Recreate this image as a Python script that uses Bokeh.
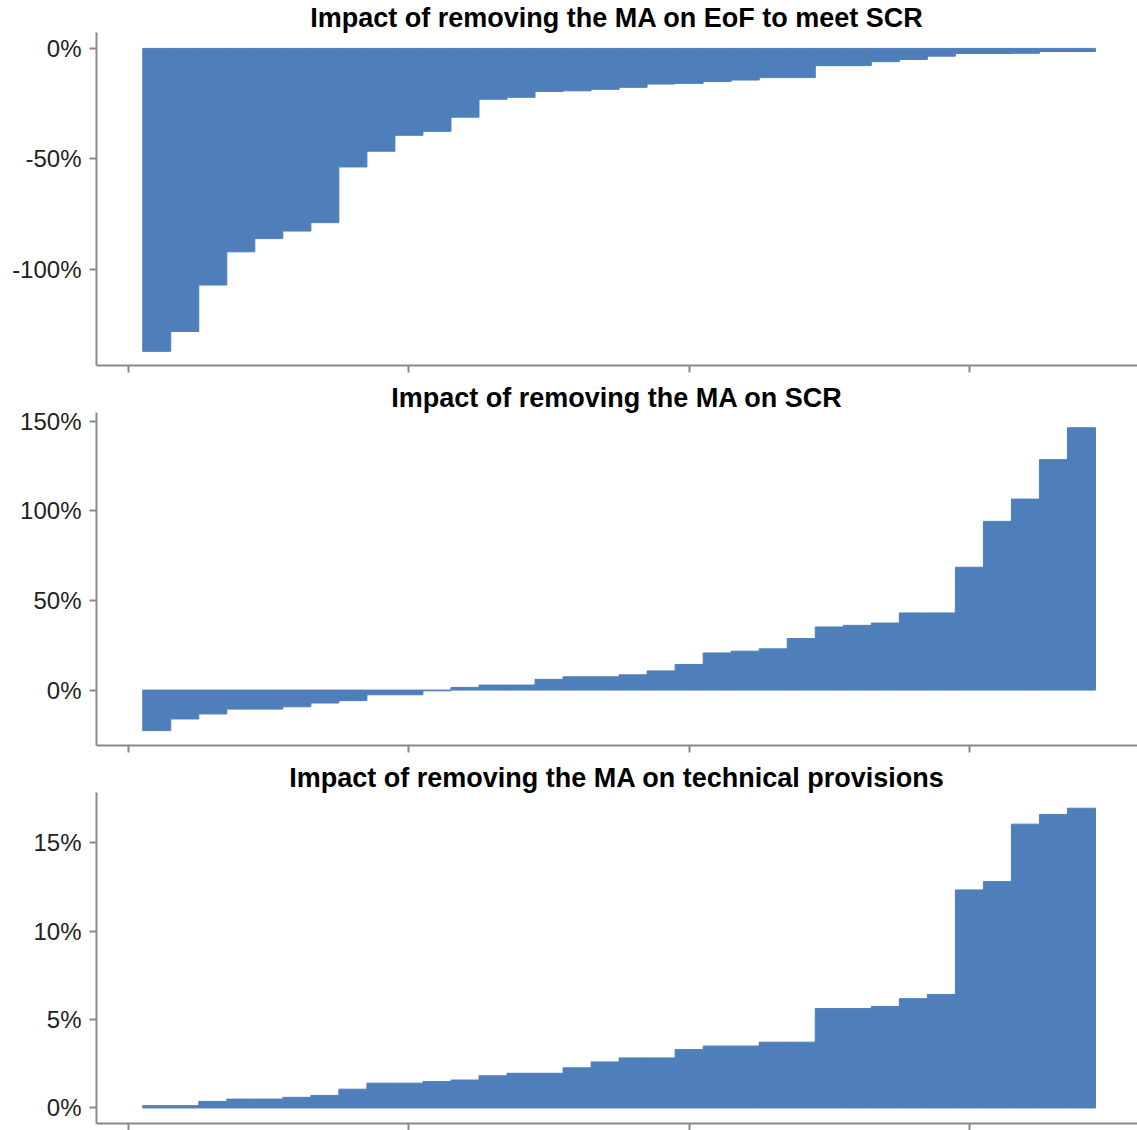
from bokeh.plotting import figure
from bokeh.layouts import column
from bokeh.models import FixedTicker, PrintfTickFormatter, Range1d
from bokeh.embed import file_html
from bokeh.resources import INLINE

# ---- data ----
undertakings = list(range(1, 35))

eof_values = [-137.0, -128.0, -107.0, -92.0, -86.0, -82.6, -78.8, -53.6, -46.5, -39.3,
              -37.5, -31.1, -23.0, -22.1, -19.5, -19.2, -18.5, -17.6, -16.1, -15.8,
              -15.0, -14.3, -13.2, -13.2, -7.8, -7.8, -6.0, -5.0, -3.5, -2.3,
              -2.3, -2.2, -1.4, -1.4]

scr_values = [-22.6, -16.1, -13.3, -10.6, -10.6, -9.3, -7.2, -5.9, -2.6, -2.6,
              -0.4, 1.5, 2.8, 2.8, 6.0, 7.4, 7.4, 8.5, 10.7, 14.3,
              20.7, 21.7, 23.0, 28.7, 35.2, 36.1, 37.4, 43.0, 43.0, 68.5,
              94.1, 106.5, 128.5, 146.3]

tp_values = [0.13, 0.13, 0.37, 0.5, 0.5, 0.6, 0.71, 1.06, 1.4, 1.4,
             1.49, 1.58, 1.82, 1.96, 1.96, 2.27, 2.6, 2.83, 2.83, 3.3,
             3.5, 3.5, 3.72, 3.72, 5.62, 5.62, 5.74, 6.18, 6.42, 12.33,
             12.8, 16.05, 16.6, 16.95]

titles = ["Impact of removing the MA on EoF to meet SCR",
          "Impact of removing the MA on SCR",
          "Impact of removing the MA on technical provisions"]

y_ticks = [[-100, -50, 0], [0, 50, 100, 150], [0, 5, 10, 15]]
y_ranges = [(-143.4, 7.2), (-30.9, 154.8), (-0.88, 17.84)]
x_ticks = [0, 10, 20, 30]

BAR = "#4f7fba"
AXIS = "#8a8a8a"
FONT = "Liberation Sans"


def panel(title, values, yt, yr, height, bottom):
    p = figure(width=1137, height=height, output_backend="svg", toolbar_location=None,
               x_range=Range1d(-1.15, 36.0), y_range=Range1d(*yr),
               min_border_left=96, min_border_right=0, min_border_top=0,
               min_border_bottom=bottom, title=title)
    p.vbar(x=undertakings, top=values, bottom=0, width=1.0,
           fill_color=BAR, line_color=BAR, line_width=1)
    p.title.text_font = FONT
    p.title.text_font_size = "27px"
    p.title.text_font_style = "bold"
    p.title.text_color = "#000000"
    p.title.align = "center"
    p.title.standoff = 0
    p.outline_line_color = None
    p.grid.visible = False
    for ax in (p.xaxis, p.yaxis):
        ax.axis_line_color = AXIS
        ax.axis_line_width = 2
        ax.major_tick_line_color = AXIS
        ax.major_tick_line_width = 2
        ax.major_tick_out = 7
        ax.major_tick_in = 0
        ax.minor_tick_line_color = None
    p.yaxis.ticker = FixedTicker(ticks=yt)
    p.yaxis.formatter = PrintfTickFormatter(format="%d%%")
    p.yaxis.major_label_text_font = FONT
    p.yaxis.major_label_text_font_size = "24px"
    p.yaxis.major_label_text_color = "#222222"
    p.yaxis.major_label_standoff = 8
    p.xaxis.ticker = FixedTicker(ticks=x_ticks)
    p.xaxis.major_label_text_color = None
    p.xaxis.major_label_text_font_size = "1px"
    p.xaxis.major_label_standoff = 0
    return p


heights = [380, 380, 370]
bottoms = [15, 15, 5]
figs = [panel(t, v, yt, yr, h, b) for t, v, yt, yr, h, b in
        zip(titles, [eof_values, scr_values, tp_values], y_ticks, y_ranges, heights, bottoms)]

layout = column(*figs, spacing=0)
open("out.html", "w").write(file_html(layout, INLINE))
